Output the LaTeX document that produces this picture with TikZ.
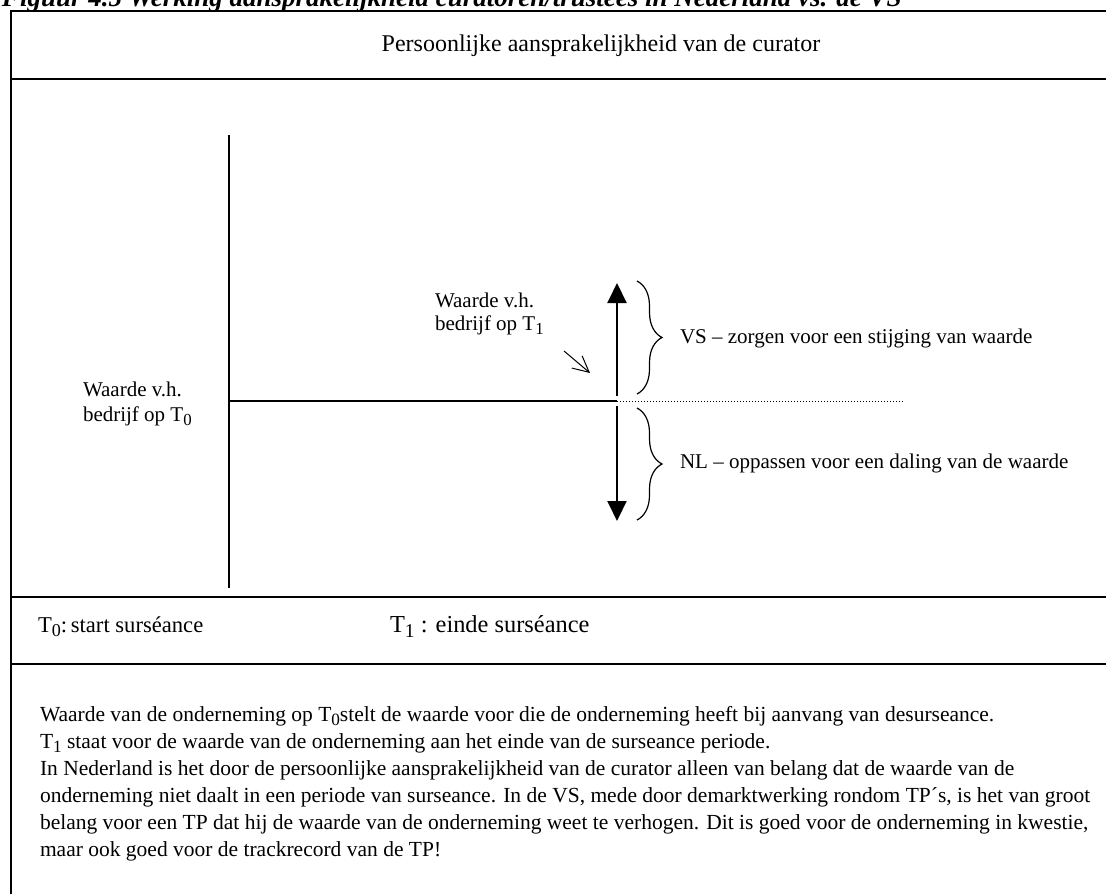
\documentclass[tikz,border=0pt]{standalone}
\usepackage{fontspec}
\setmainfont{Liberation Serif}
\usetikzlibrary{arrows.meta,decorations.pathreplacing}
% time symbol with a lowered index
\newcommand{\Tidx}[1]{T\raisebox{-0.45ex}{\fontsize{0.8em}{1em}\selectfont #1}}
\begin{document}
\begin{tikzpicture}[x=0.5pt,y=-0.5pt,
  every node/.style={inner sep=0pt, outer sep=0pt},
  txt/.style={anchor=base west, font=\fontsize{10.75}{12}\selectfont},
  lbl/.style={anchor=base west, font=\fontsize{10.5}{12}\selectfont},
  frame/.style={line width=1pt},
  axis/.style={line width=1pt},
  bigarrow/.style={line width=1pt, -{Triangle[length=10pt,width=9.5pt]}},
  bracestyle/.style={line width=0.6pt, decorate, decoration={brace, amplitude=12.5pt}}]

\useasboundingbox (0,0) rectangle (1106,894);
\fill[white] (0,0) rectangle (1106,894);

% caption above the frame
\node[anchor=base west, font=\fontsize{13.5}{15}\selectfont\bfseries\itshape] (title) at (2,6)
  {Figuur 4.5 Werking aansprakelijkheid curatoren/trustees in Nederland vs. de VS};

% frame and row separators
\coordinate (ftl) at (11,11);   \coordinate (ftr) at (1106,11);
\coordinate (fbl) at (11,894);
\coordinate (r1l) at (11,79);   \coordinate (r1r) at (1106,79);
\coordinate (r2l) at (11,597);  \coordinate (r2r) at (1106,597);
\coordinate (r3l) at (11,664);  \coordinate (r3r) at (1106,664);
\draw[frame] (ftr) -- (ftl) -- (fbl);
\draw[frame] (r1l) -- (r1r);
\draw[frame] (r2l) -- (r2r);
\draw[frame] (r3l) -- (r3r);

% header
\node[anchor=base, font=\fontsize{12}{14}\selectfont] (head) at (601,51)
  {Persoonlijke aansprakelijkheid van de curator};

% value axis and time line
\coordinate (ytop) at (229,135);
\coordinate (ybot) at (229,588);
\coordinate (v0) at (229,401);
\coordinate (v1) at (617,401);
\coordinate (vend) at (903,401);
\draw[axis] (ytop) -- (ybot);
\draw[axis] (v0) -- (v1);
\draw[line width=0.5pt, dash pattern=on 0.6pt off 0.9pt] (v1) -- (vend);

% rise and fall arrows
\coordinate (upS) at (617,396);  \coordinate (upE) at (617,283);
\coordinate (dnS) at (617,406);  \coordinate (dnE) at (617,521);
\draw[bigarrow] (upS) -- (upE);
\draw[bigarrow] (dnS) -- (dnE);

% braces
\coordinate (b1a) at (637,281); \coordinate (b1b) at (637,394);
\coordinate (b2a) at (637,408); \coordinate (b2b) at (637,520);
\draw[bracestyle] (b1a) -- (b1b);
\draw[bracestyle] (b2a) -- (b2b);

\node[lbl] (vs) at (680,343) {VS -- zorgen voor een stijging van waarde};
\node[lbl] (nl) at (680,468) {NL -- oppassen voor een daling van de waarde};

% value at T1
\node[lbl] (t1a) at (435,307) {Waarde v.h.};
\node[lbl] (t1b) at (435,330) {bedrijf op \Tidx{1}};
\coordinate (pS) at (564,351);
\coordinate (pE) at (590,373);
\draw[line width=0.5pt, -{Straight Barb[length=8pt,width=8pt]}] (pS) -- (pE);

% value at T0
\node[lbl] (t0a) at (83,396) {Waarde v.h.};
\node[lbl] (t0b) at (83,421) {bedrijf op \Tidx{0}};

% time legend
\node[anchor=base west, font=\fontsize{11.3}{13}\selectfont] (lg0) at (38,632) {\Tidx{0}:\,start surséance};
\node[anchor=base west, font=\fontsize{12.2}{14}\selectfont] (lg1) at (390,632) {\Tidx{1} : einde surséance};

% explanation
\node[txt] (p1) at (40,721) {Waarde van de onderneming op \Tidx{0}stelt de waarde voor die de onderneming heeft bij aanvang van desurseance.};
\node[txt] (p2) at (40,748) {\Tidx{1} staat voor de waarde van de onderneming aan het einde van de surseance periode.};
\node[txt] (p3) at (40,775) {In Nederland is het door de persoonlijke aansprakelijkheid van de curator alleen van belang dat de waarde van de};
\node[txt] (p4) at (40,802) {onderneming niet daalt in een periode van surseance. In de VS, mede door demarktwerking rondom TP´s, is het van groot};
\node[txt] (p5) at (40,829) {belang voor een TP dat hij de waarde van de onderneming weet te verhogen. Dit is goed voor de onderneming in kwestie,};
\node[txt] (p6) at (40,856) {maar ook goed voor de trackrecord van de TP!};
\end{tikzpicture}
\end{document}
